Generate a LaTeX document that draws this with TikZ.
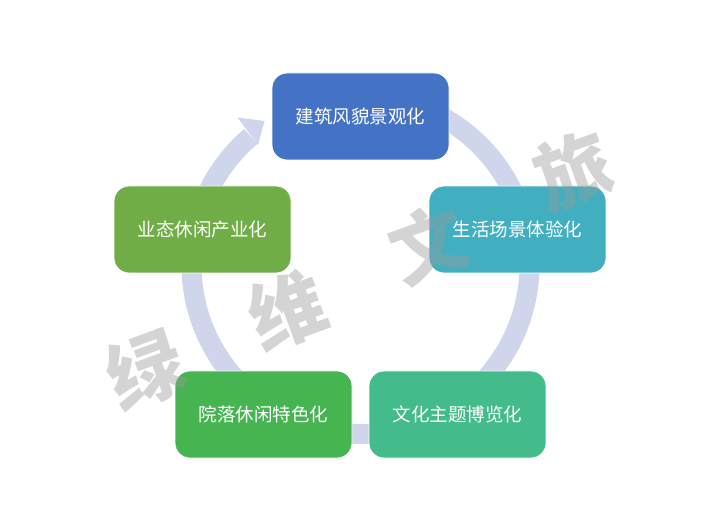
\documentclass[tikz,border=0pt]{standalone}
\usepackage{fontspec}
\newfontfamily\cjk{Noto Sans CJK SC}
\definecolor{ringc}{HTML}{CFD5EA}
\definecolor{cTop}{HTML}{4472C4}
\definecolor{cRight}{HTML}{42AFC0}
\definecolor{cLeft}{HTML}{70AD47}
\definecolor{cBL}{HTML}{47B452}
\definecolor{cBR}{HTML}{44BB8B}
\definecolor{wmc}{HTML}{9A9A9A}
\tikzset{
  stagebox/.style={draw=white, line width=0.8pt, rounded corners=15pt,
    minimum width=177pt, minimum height=87pt, inner sep=0pt,
    text=white, font=\cjk\fontsize{18.5}{22}\selectfont},
  wmark/.style={text=wmc, opacity=0.42, rotate=20,
    font=\cjk\bfseries\fontsize{76}{86}\selectfont},
  ringarc/.style={draw=ringc, line width=20pt},
}
\begin{document}
\begin{tikzpicture}[x=1pt,y=1pt]
\useasboundingbox (0,0) rectangle (721,-513);
\fill[white] (0,0) rectangle (721,-513);
\coordinate (c) at (360.5,-265);
% ring with arrow
\draw[ringarc] (c) ++(75:169) arc[start angle=75, end angle=-229.5, radius=169];
\coordinate (wo) at (237.5,-117.5);
\coordinate (tip) at (264.5,-121);
\coordinate (wi) at (258,-145);
\fill[ringc] (wo) -- (tip) -- (wi) -- cycle;
% boxes
\node[stagebox, fill=cTop]   (top) at (360.5,-116.5) {建筑风貌景观化};
\node[stagebox, fill=cRight] (rt)  at (517.5,-229.5) {生活场景体验化};
\node[stagebox, fill=cBR]    (br)  at (457.5,-414.5) {文化主题博览化};
\node[stagebox, fill=cBL]    (bl)  at (263.5,-414.5) {院落休闲特色化};
\node[stagebox, fill=cLeft]  (lt)  at (202.5,-229.5) {业态休闲产业化};
% watermark
\node[wmark] (w1) at (145,-370) {绿};
\node[wmark] (w2) at (287,-310) {维};
\node[wmark] (w3) at (428,-244) {文};
\node[wmark] (w4) at (573,-170) {旅};
\end{tikzpicture}
\end{document}
